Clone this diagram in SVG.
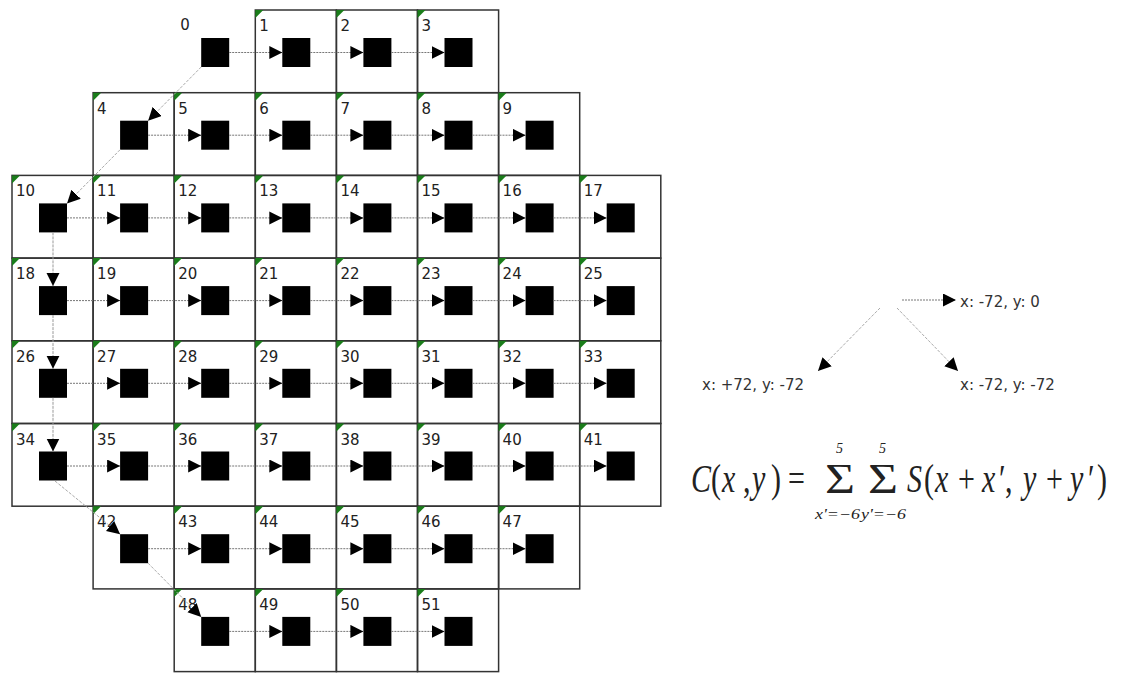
<svg xmlns="http://www.w3.org/2000/svg" width="1125" height="673" viewBox="0 0 1125 673">
<defs>
<style>
.cell{fill:none;stroke:#333;stroke-width:1.5}
.tri{fill:#1a7d1a}
.sq{fill:#000}
.lbl{font-family:"DejaVu Sans",sans-serif;font-size:15px;fill:#222}
.h{stroke:#777;stroke-width:1;stroke-dasharray:2 1;fill:none;marker-end:url(#ah)}
.v{stroke:#999;stroke-width:1;stroke-dasharray:3 1;fill:none;marker-end:url(#ah)}
.d{stroke:#aaa;stroke-width:1;stroke-dasharray:3 1.5;fill:none;marker-end:url(#ah)}
.rt{font-family:"DejaVu Sans",sans-serif;font-size:15px;fill:#333}
.m{font-family:"DejaVu Serif";fill:#222}
</style>
<marker id="ah" markerWidth="14" markerHeight="14" refX="13" refY="6.5" orient="auto" markerUnits="userSpaceOnUse"><path d="M0,0L13,6.5L0,13z" fill="#000"/></marker>
</defs>
<rect width="1125" height="673" fill="#fff"/>

<g id="n0" transform="translate(174.2,10)"><text class="lbl" x="6" y="20">0</text><rect class="sq" x="27" y="28" width="28" height="29"/></g>
<g id="n1" transform="translate(255.3,10)"><rect class="cell" width="81.1" height="82.7"/><path class="tri" d="M0,0h8L0,8z"/><text class="lbl" x="4" y="21">1</text><rect class="sq" x="27" y="28" width="28" height="29"/></g>
<g id="n2" transform="translate(336.4,10)"><rect class="cell" width="81.1" height="82.7"/><path class="tri" d="M0,0h8L0,8z"/><text class="lbl" x="4" y="21">2</text><rect class="sq" x="27" y="28" width="28" height="29"/></g>
<g id="n3" transform="translate(417.5,10)"><rect class="cell" width="81.1" height="82.7"/><path class="tri" d="M0,0h8L0,8z"/><text class="lbl" x="4" y="21">3</text><rect class="sq" x="27" y="28" width="28" height="29"/></g>

<g id="n4" transform="translate(93.1,92.7)"><rect class="cell" width="81.1" height="82.7"/><path class="tri" d="M0,0h8L0,8z"/><text class="lbl" x="4" y="21">4</text><rect class="sq" x="27" y="28" width="28" height="29"/></g>
<g id="n5" transform="translate(174.2,92.7)"><rect class="cell" width="81.1" height="82.7"/><path class="tri" d="M0,0h8L0,8z"/><text class="lbl" x="4" y="21">5</text><rect class="sq" x="27" y="28" width="28" height="29"/></g>
<g id="n6" transform="translate(255.3,92.7)"><rect class="cell" width="81.1" height="82.7"/><path class="tri" d="M0,0h8L0,8z"/><text class="lbl" x="4" y="21">6</text><rect class="sq" x="27" y="28" width="28" height="29"/></g>
<g id="n7" transform="translate(336.4,92.7)"><rect class="cell" width="81.1" height="82.7"/><path class="tri" d="M0,0h8L0,8z"/><text class="lbl" x="4" y="21">7</text><rect class="sq" x="27" y="28" width="28" height="29"/></g>
<g id="n8" transform="translate(417.5,92.7)"><rect class="cell" width="81.1" height="82.7"/><path class="tri" d="M0,0h8L0,8z"/><text class="lbl" x="4" y="21">8</text><rect class="sq" x="27" y="28" width="28" height="29"/></g>
<g id="n9" transform="translate(498.6,92.7)"><rect class="cell" width="81.1" height="82.7"/><path class="tri" d="M0,0h8L0,8z"/><text class="lbl" x="4" y="21">9</text><rect class="sq" x="27" y="28" width="28" height="29"/></g>

<g id="n10" transform="translate(12,175.4)"><rect class="cell" width="81.1" height="82.7"/><path class="tri" d="M0,0h8L0,8z"/><text class="lbl" x="4" y="21">10</text><rect class="sq" x="27" y="28" width="28" height="29"/></g>
<g id="n11" transform="translate(93.1,175.4)"><rect class="cell" width="81.1" height="82.7"/><path class="tri" d="M0,0h8L0,8z"/><text class="lbl" x="4" y="21">11</text><rect class="sq" x="27" y="28" width="28" height="29"/></g>
<g id="n12" transform="translate(174.2,175.4)"><rect class="cell" width="81.1" height="82.7"/><path class="tri" d="M0,0h8L0,8z"/><text class="lbl" x="4" y="21">12</text><rect class="sq" x="27" y="28" width="28" height="29"/></g>
<g id="n13" transform="translate(255.3,175.4)"><rect class="cell" width="81.1" height="82.7"/><path class="tri" d="M0,0h8L0,8z"/><text class="lbl" x="4" y="21">13</text><rect class="sq" x="27" y="28" width="28" height="29"/></g>
<g id="n14" transform="translate(336.4,175.4)"><rect class="cell" width="81.1" height="82.7"/><path class="tri" d="M0,0h8L0,8z"/><text class="lbl" x="4" y="21">14</text><rect class="sq" x="27" y="28" width="28" height="29"/></g>
<g id="n15" transform="translate(417.5,175.4)"><rect class="cell" width="81.1" height="82.7"/><path class="tri" d="M0,0h8L0,8z"/><text class="lbl" x="4" y="21">15</text><rect class="sq" x="27" y="28" width="28" height="29"/></g>
<g id="n16" transform="translate(498.6,175.4)"><rect class="cell" width="81.1" height="82.7"/><path class="tri" d="M0,0h8L0,8z"/><text class="lbl" x="4" y="21">16</text><rect class="sq" x="27" y="28" width="28" height="29"/></g>
<g id="n17" transform="translate(579.7,175.4)"><rect class="cell" width="81.1" height="82.7"/><path class="tri" d="M0,0h8L0,8z"/><text class="lbl" x="4" y="21">17</text><rect class="sq" x="27" y="28" width="28" height="29"/></g>

<g id="n18" transform="translate(12,258.1)"><rect class="cell" width="81.1" height="82.7"/><path class="tri" d="M0,0h8L0,8z"/><text class="lbl" x="4" y="21">18</text><rect class="sq" x="27" y="28" width="28" height="29"/></g>
<g id="n19" transform="translate(93.1,258.1)"><rect class="cell" width="81.1" height="82.7"/><path class="tri" d="M0,0h8L0,8z"/><text class="lbl" x="4" y="21">19</text><rect class="sq" x="27" y="28" width="28" height="29"/></g>
<g id="n20" transform="translate(174.2,258.1)"><rect class="cell" width="81.1" height="82.7"/><path class="tri" d="M0,0h8L0,8z"/><text class="lbl" x="4" y="21">20</text><rect class="sq" x="27" y="28" width="28" height="29"/></g>
<g id="n21" transform="translate(255.3,258.1)"><rect class="cell" width="81.1" height="82.7"/><path class="tri" d="M0,0h8L0,8z"/><text class="lbl" x="4" y="21">21</text><rect class="sq" x="27" y="28" width="28" height="29"/></g>
<g id="n22" transform="translate(336.4,258.1)"><rect class="cell" width="81.1" height="82.7"/><path class="tri" d="M0,0h8L0,8z"/><text class="lbl" x="4" y="21">22</text><rect class="sq" x="27" y="28" width="28" height="29"/></g>
<g id="n23" transform="translate(417.5,258.1)"><rect class="cell" width="81.1" height="82.7"/><path class="tri" d="M0,0h8L0,8z"/><text class="lbl" x="4" y="21">23</text><rect class="sq" x="27" y="28" width="28" height="29"/></g>
<g id="n24" transform="translate(498.6,258.1)"><rect class="cell" width="81.1" height="82.7"/><path class="tri" d="M0,0h8L0,8z"/><text class="lbl" x="4" y="21">24</text><rect class="sq" x="27" y="28" width="28" height="29"/></g>
<g id="n25" transform="translate(579.7,258.1)"><rect class="cell" width="81.1" height="82.7"/><path class="tri" d="M0,0h8L0,8z"/><text class="lbl" x="4" y="21">25</text><rect class="sq" x="27" y="28" width="28" height="29"/></g>

<g id="n26" transform="translate(12,340.8)"><rect class="cell" width="81.1" height="82.7"/><path class="tri" d="M0,0h8L0,8z"/><text class="lbl" x="4" y="21">26</text><rect class="sq" x="27" y="28" width="28" height="29"/></g>
<g id="n27" transform="translate(93.1,340.8)"><rect class="cell" width="81.1" height="82.7"/><path class="tri" d="M0,0h8L0,8z"/><text class="lbl" x="4" y="21">27</text><rect class="sq" x="27" y="28" width="28" height="29"/></g>
<g id="n28" transform="translate(174.2,340.8)"><rect class="cell" width="81.1" height="82.7"/><path class="tri" d="M0,0h8L0,8z"/><text class="lbl" x="4" y="21">28</text><rect class="sq" x="27" y="28" width="28" height="29"/></g>
<g id="n29" transform="translate(255.3,340.8)"><rect class="cell" width="81.1" height="82.7"/><path class="tri" d="M0,0h8L0,8z"/><text class="lbl" x="4" y="21">29</text><rect class="sq" x="27" y="28" width="28" height="29"/></g>
<g id="n30" transform="translate(336.4,340.8)"><rect class="cell" width="81.1" height="82.7"/><path class="tri" d="M0,0h8L0,8z"/><text class="lbl" x="4" y="21">30</text><rect class="sq" x="27" y="28" width="28" height="29"/></g>
<g id="n31" transform="translate(417.5,340.8)"><rect class="cell" width="81.1" height="82.7"/><path class="tri" d="M0,0h8L0,8z"/><text class="lbl" x="4" y="21">31</text><rect class="sq" x="27" y="28" width="28" height="29"/></g>
<g id="n32" transform="translate(498.6,340.8)"><rect class="cell" width="81.1" height="82.7"/><path class="tri" d="M0,0h8L0,8z"/><text class="lbl" x="4" y="21">32</text><rect class="sq" x="27" y="28" width="28" height="29"/></g>
<g id="n33" transform="translate(579.7,340.8)"><rect class="cell" width="81.1" height="82.7"/><path class="tri" d="M0,0h8L0,8z"/><text class="lbl" x="4" y="21">33</text><rect class="sq" x="27" y="28" width="28" height="29"/></g>

<g id="n34" transform="translate(12,423.5)"><rect class="cell" width="81.1" height="82.7"/><path class="tri" d="M0,0h8L0,8z"/><text class="lbl" x="4" y="21">34</text><rect class="sq" x="27" y="28" width="28" height="29"/></g>
<g id="n35" transform="translate(93.1,423.5)"><rect class="cell" width="81.1" height="82.7"/><path class="tri" d="M0,0h8L0,8z"/><text class="lbl" x="4" y="21">35</text><rect class="sq" x="27" y="28" width="28" height="29"/></g>
<g id="n36" transform="translate(174.2,423.5)"><rect class="cell" width="81.1" height="82.7"/><path class="tri" d="M0,0h8L0,8z"/><text class="lbl" x="4" y="21">36</text><rect class="sq" x="27" y="28" width="28" height="29"/></g>
<g id="n37" transform="translate(255.3,423.5)"><rect class="cell" width="81.1" height="82.7"/><path class="tri" d="M0,0h8L0,8z"/><text class="lbl" x="4" y="21">37</text><rect class="sq" x="27" y="28" width="28" height="29"/></g>
<g id="n38" transform="translate(336.4,423.5)"><rect class="cell" width="81.1" height="82.7"/><path class="tri" d="M0,0h8L0,8z"/><text class="lbl" x="4" y="21">38</text><rect class="sq" x="27" y="28" width="28" height="29"/></g>
<g id="n39" transform="translate(417.5,423.5)"><rect class="cell" width="81.1" height="82.7"/><path class="tri" d="M0,0h8L0,8z"/><text class="lbl" x="4" y="21">39</text><rect class="sq" x="27" y="28" width="28" height="29"/></g>
<g id="n40" transform="translate(498.6,423.5)"><rect class="cell" width="81.1" height="82.7"/><path class="tri" d="M0,0h8L0,8z"/><text class="lbl" x="4" y="21">40</text><rect class="sq" x="27" y="28" width="28" height="29"/></g>
<g id="n41" transform="translate(579.7,423.5)"><rect class="cell" width="81.1" height="82.7"/><path class="tri" d="M0,0h8L0,8z"/><text class="lbl" x="4" y="21">41</text><rect class="sq" x="27" y="28" width="28" height="29"/></g>

<g id="n42" transform="translate(93.1,506.2)"><rect class="cell" width="81.1" height="82.7"/><path class="tri" d="M0,0h8L0,8z"/><text class="lbl" x="4" y="21">42</text><rect class="sq" x="27" y="28" width="28" height="29"/></g>
<g id="n43" transform="translate(174.2,506.2)"><rect class="cell" width="81.1" height="82.7"/><path class="tri" d="M0,0h8L0,8z"/><text class="lbl" x="4" y="21">43</text><rect class="sq" x="27" y="28" width="28" height="29"/></g>
<g id="n44" transform="translate(255.3,506.2)"><rect class="cell" width="81.1" height="82.7"/><path class="tri" d="M0,0h8L0,8z"/><text class="lbl" x="4" y="21">44</text><rect class="sq" x="27" y="28" width="28" height="29"/></g>
<g id="n45" transform="translate(336.4,506.2)"><rect class="cell" width="81.1" height="82.7"/><path class="tri" d="M0,0h8L0,8z"/><text class="lbl" x="4" y="21">45</text><rect class="sq" x="27" y="28" width="28" height="29"/></g>
<g id="n46" transform="translate(417.5,506.2)"><rect class="cell" width="81.1" height="82.7"/><path class="tri" d="M0,0h8L0,8z"/><text class="lbl" x="4" y="21">46</text><rect class="sq" x="27" y="28" width="28" height="29"/></g>
<g id="n47" transform="translate(498.6,506.2)"><rect class="cell" width="81.1" height="82.7"/><path class="tri" d="M0,0h8L0,8z"/><text class="lbl" x="4" y="21">47</text><rect class="sq" x="27" y="28" width="28" height="29"/></g>

<g id="n48" transform="translate(174.2,588.9)"><rect class="cell" width="81.1" height="82.7"/><path class="tri" d="M0,0h8L0,8z"/><text class="lbl" x="4" y="21">48</text><rect class="sq" x="27" y="28" width="28" height="29"/></g>
<g id="n49" transform="translate(255.3,588.9)"><rect class="cell" width="81.1" height="82.7"/><path class="tri" d="M0,0h8L0,8z"/><text class="lbl" x="4" y="21">49</text><rect class="sq" x="27" y="28" width="28" height="29"/></g>
<g id="n50" transform="translate(336.4,588.9)"><rect class="cell" width="81.1" height="82.7"/><path class="tri" d="M0,0h8L0,8z"/><text class="lbl" x="4" y="21">50</text><rect class="sq" x="27" y="28" width="28" height="29"/></g>
<g id="n51" transform="translate(417.5,588.9)"><rect class="cell" width="81.1" height="82.7"/><path class="tri" d="M0,0h8L0,8z"/><text class="lbl" x="4" y="21">51</text><rect class="sq" x="27" y="28" width="28" height="29"/></g>

<g id="connectors">
<line class="h" x1="229.2" y1="52.5" x2="282.3" y2="52.5"/>
<line class="h" x1="310.3" y1="52.5" x2="363.4" y2="52.5"/>
<line class="h" x1="391.4" y1="52.5" x2="444.5" y2="52.5"/>

<line class="h" x1="148.1" y1="135.2" x2="201.2" y2="135.2"/>
<line class="h" x1="229.2" y1="135.2" x2="282.3" y2="135.2"/>
<line class="h" x1="310.3" y1="135.2" x2="363.4" y2="135.2"/>
<line class="h" x1="391.4" y1="135.2" x2="444.5" y2="135.2"/>
<line class="h" x1="472.5" y1="135.2" x2="525.6" y2="135.2"/>

<line class="h" x1="67" y1="217.9" x2="120.1" y2="217.9"/>
<line class="h" x1="148.1" y1="217.9" x2="201.2" y2="217.9"/>
<line class="h" x1="229.2" y1="217.9" x2="282.3" y2="217.9"/>
<line class="h" x1="310.3" y1="217.9" x2="363.4" y2="217.9"/>
<line class="h" x1="391.4" y1="217.9" x2="444.5" y2="217.9"/>
<line class="h" x1="472.5" y1="217.9" x2="525.6" y2="217.9"/>
<line class="h" x1="553.6" y1="217.9" x2="606.7" y2="217.9"/>

<line class="h" x1="67" y1="300.6" x2="120.1" y2="300.6"/>
<line class="h" x1="148.1" y1="300.6" x2="201.2" y2="300.6"/>
<line class="h" x1="229.2" y1="300.6" x2="282.3" y2="300.6"/>
<line class="h" x1="310.3" y1="300.6" x2="363.4" y2="300.6"/>
<line class="h" x1="391.4" y1="300.6" x2="444.5" y2="300.6"/>
<line class="h" x1="472.5" y1="300.6" x2="525.6" y2="300.6"/>
<line class="h" x1="553.6" y1="300.6" x2="606.7" y2="300.6"/>

<line class="h" x1="67" y1="383.3" x2="120.1" y2="383.3"/>
<line class="h" x1="148.1" y1="383.3" x2="201.2" y2="383.3"/>
<line class="h" x1="229.2" y1="383.3" x2="282.3" y2="383.3"/>
<line class="h" x1="310.3" y1="383.3" x2="363.4" y2="383.3"/>
<line class="h" x1="391.4" y1="383.3" x2="444.5" y2="383.3"/>
<line class="h" x1="472.5" y1="383.3" x2="525.6" y2="383.3"/>
<line class="h" x1="553.6" y1="383.3" x2="606.7" y2="383.3"/>

<line class="h" x1="67" y1="466" x2="120.1" y2="466"/>
<line class="h" x1="148.1" y1="466" x2="201.2" y2="466"/>
<line class="h" x1="229.2" y1="466" x2="282.3" y2="466"/>
<line class="h" x1="310.3" y1="466" x2="363.4" y2="466"/>
<line class="h" x1="391.4" y1="466" x2="444.5" y2="466"/>
<line class="h" x1="472.5" y1="466" x2="525.6" y2="466"/>
<line class="h" x1="553.6" y1="466" x2="606.7" y2="466"/>

<line class="h" x1="148.1" y1="548.7" x2="201.2" y2="548.7"/>
<line class="h" x1="229.2" y1="548.7" x2="282.3" y2="548.7"/>
<line class="h" x1="310.3" y1="548.7" x2="363.4" y2="548.7"/>
<line class="h" x1="391.4" y1="548.7" x2="444.5" y2="548.7"/>
<line class="h" x1="472.5" y1="548.7" x2="525.6" y2="548.7"/>

<line class="h" x1="229.2" y1="631.4" x2="282.3" y2="631.4"/>
<line class="h" x1="310.3" y1="631.4" x2="363.4" y2="631.4"/>
<line class="h" x1="391.4" y1="631.4" x2="444.5" y2="631.4"/>

<line class="v" x1="53" y1="232.4" x2="53" y2="286.1"/>
<line class="v" x1="53" y1="315.1" x2="53" y2="368.8"/>
<line class="v" x1="53" y1="397.8" x2="53" y2="451.5"/>

<line class="d" x1="201.2" y1="67" x2="148.1" y2="120.7"/>
<line class="d" x1="120.1" y1="149.7" x2="67" y2="203.4"/>
<line class="d" x1="55" y1="481" x2="120.1" y2="534.2"/>
<line class="d" x1="148.1" y1="563.2" x2="201.2" y2="616.9"/>

<line class="h" x1="902" y1="300" x2="956" y2="300"/>
<line class="d" x1="880" y1="308" x2="818" y2="371"/>
<line class="d" x1="897" y1="308" x2="958" y2="371"/>
</g>

<g id="legend">
<text class="rt" x="960" y="306.5">x: -72, y: 0</text>
<text class="rt" x="702" y="390">x: +72, y: -72</text>
<text class="rt" x="960" y="390">x: -72, y: -72</text>
</g>

<g id="formula">
<g transform="translate(0,492) scale(1,1.35)">
<text class="m" y="0" font-size="30" style="font-family:'Liberation Serif','DejaVu Serif',serif"><tspan x="691" font-style="italic">C</tspan><tspan x="711">(</tspan><tspan x="722" font-style="italic">x</tspan><tspan x="743">,</tspan><tspan x="752" font-style="italic">y</tspan><tspan x="771">)</tspan><tspan x="788">=</tspan><tspan x="907" font-style="italic">S</tspan><tspan x="924">(</tspan><tspan x="935" font-style="italic">x</tspan><tspan x="958">+</tspan><tspan x="982" font-style="italic">x</tspan><tspan x="999">′</tspan><tspan x="1005">,</tspan><tspan x="1023" font-style="italic">y</tspan><tspan x="1046">+</tspan><tspan x="1070" font-style="italic">y</tspan><tspan x="1088">′</tspan><tspan x="1097">)</tspan></text>
</g>
<text class="m" x="825" y="493" font-size="42" textLength="30" lengthAdjust="spacingAndGlyphs" style="font-family:'Liberation Serif','DejaVu Serif',serif">Σ</text>
<text class="m" x="868" y="493" font-size="42" textLength="30" lengthAdjust="spacingAndGlyphs" style="font-family:'Liberation Serif','DejaVu Serif',serif">Σ</text>
<text class="m" x="836" y="453" font-size="14" font-style="italic" style="font-family:'Liberation Serif','DejaVu Serif',serif">5</text>
<text class="m" x="879" y="453" font-size="14" font-style="italic" style="font-family:'Liberation Serif','DejaVu Serif',serif">5</text>
<text class="m" x="815" y="519" font-size="14" font-style="italic" textLength="45" lengthAdjust="spacingAndGlyphs" style="font-family:'Liberation Serif','DejaVu Serif',serif">x'=−6</text>
<text class="m" x="861" y="519" font-size="14" font-style="italic" textLength="45" lengthAdjust="spacingAndGlyphs" style="font-family:'Liberation Serif','DejaVu Serif',serif">y'=−6</text>
</g>
</svg>
